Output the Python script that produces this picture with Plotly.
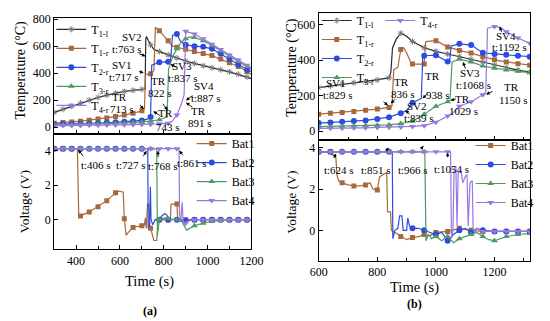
import plotly.graph_objects as go

# ---------------- Panel (a) temperature ----------------
a_T1l_x = [300,340,380,420,460,500,540,580,620,660,700,715,718,722,730,740,755,780,820,860,900,940,980,1020,1060,1100,1140,1180,1200]
a_T1l_y = [110,133,155,178,200,220,238,252,265,273,280,282,660,668,640,610,575,560,535,512,490,472,455,440,425,410,392,372,360]
a_T1r_x = [300,340,380,420,460,500,540,580,620,660,700,712,717,740,755,762,780,800,820,840,860,900,940,980,1020,1060,1100,1140,1180,1200]
a_T1r_y = [30,34,39,45,52,60,69,79,90,103,122,135,390,395,420,740,715,675,640,600,592,578,560,545,530,505,478,450,412,390]
a_T2r_x = [300,340,380,420,460,500,540,580,620,660,700,725,740,745,780,820,830,840,860,875,900,940,980,1020,1060,1100,1140,1180,1200]
a_T2r_y = [22,23,24,26,28,30,33,36,40,45,50,60,75,460,480,485,470,680,690,640,610,600,595,580,545,505,465,425,410]
a_T3r_x = [300,340,380,420,460,500,540,580,620,660,700,740,780,815,822,840,860,880,900,920,940,980,1020,1060,1100,1140,1180,1200]
a_T3r_y = [18,19,20,21,22,24,26,28,31,34,38,45,55,75,430,520,580,630,655,668,665,640,605,565,525,488,448,432]
a_T4r_x = [300,340,380,420,460,500,540,580,620,660,700,740,780,820,840,860,880,893,898,900,940,980,1020,1060,1100,1140,1180,1200]
a_T4r_y = [12,12,13,13,14,15,16,17,18,19,20,22,25,30,45,90,170,240,700,710,690,655,615,575,535,497,458,442]

# ---------------- Panel (a) voltage ----------------
a_B1_x = [300,340,380,406,412,420,460,500,540,580,590,615,620,628,640,660,700,712,716,720,726,732,736,740,755,768,775,780,820,830,833,860,864,900,940,980,1020,1060,1100,1140,1180,1200]
a_B1_y = [4.1,4.1,4.1,4.1,0.2,0.22,0.45,0.75,1.1,1.55,1.65,1.6,0.05,-0.9,-0.7,-0.45,-0.35,-0.3,0.1,-0.5,0.9,0.9,-0.3,-0.5,-1.2,-1.2,0.0,0.0,0.0,0.0,0.9,0.9,0.0,0.0,0.0,0.0,0.0,0.0,0.0,0.0,0.0,0.0]
a_B2_x = [300,340,380,420,460,500,540,580,620,660,700,727,729,735,739,742,750,760,780,790,805,815,820,860,880,900,940,980,1020,1060,1100,1140,1180,1200]
a_B2_y = [4.1]*11 + [4.1,-0.5,-0.3,1.9,0.0,-0.3,0.0,0.0,0.2,0.35,0.25,0.0,0.0,-0.1,-0.05,0,0,0,0,0,0,0,0]
a_B3_x = [300,340,380,420,460,500,540,580,620,660,700,740,768,771,776,780,800,820,860,880,895,905,940,980,1020,1060,1100,1140,1180,1200]
a_B3_y = [4.1]*12 + [4.1,-0.9,-0.2,0.0,0.1,0.05,0.0,0.0,-0.4,-0.6,-0.35,-0.2,-0.1,-0.05,0.0,0.0,0.0,0.0]
a_B4_x = [300,340,380,420,460,500,540,580,620,660,700,740,780,820,860,870,872,878,884,888,895,900,905,920,940,980,1020,1060,1100,1140,1180,1200]
a_B4_y = [4.1]*15 + [4.1,0.3,0.0,1.0,0.0,-0.3,-0.2,-0.1,-0.05,0,0,0,0,0,0,0,0]

# ---------------- Panel (b) temperature ----------------
b_T1l_x = [600,640,680,720,760,800,840,846,852,865,880,900,920,960,1000,1040,1080,1120,1160,1200,1240,1280,1320]
b_T1l_y = [245,255,264,272,280,288,300,330,470,520,552,535,505,470,450,435,420,405,390,372,357,344,332]
b_T1r_x = [600,640,680,720,760,800,840,850,856,870,880,890,900,915,920,960,965,1000,1040,1080,1120,1160,1200,1240,1280,1320]
b_T1r_y = [95,100,105,110,117,124,133,140,345,360,460,470,440,385,378,378,505,510,475,455,440,420,402,390,380,372]
b_T2r_x = [600,640,680,720,760,800,840,860,880,900,920,940,950,955,960,1000,1040,1046,1052,1080,1120,1160,1200,1240,1280,1320]
b_T2r_y = [45,48,52,56,60,68,78,90,100,115,160,175,185,410,425,428,392,385,480,492,485,442,435,430,425,420]
b_T3r_x = [600,640,680,720,760,800,840,880,920,960,1000,1040,1048,1055,1080,1120,1160,1200,1240,1280,1320]
b_T3r_y = [25,26,27,28,30,32,35,42,55,95,140,165,175,390,405,390,367,355,345,337,330]
b_T4r_x = [600,640,680,720,760,800,840,880,920,960,1000,1040,1060,1080,1120,1160,1170,1176,1200,1220,1240,1280,1320]
b_T4r_y = [15,15,16,17,18,20,21,23,26,30,50,85,105,140,165,205,220,580,590,585,560,525,495]

# ---------------- Panel (b) voltage ----------------
b_B1_x = [600,640,645,658,662,668,680,700,720,740,760,775,785,800,808,820,832,835,845,848,860,880,900,920,940,960,980,1000,1040,1080,1120,1160,1200,1240,1280,1320]
b_B1_y = [3.8,3.8,3.65,3.65,2.7,2.4,2.3,2.2,2.15,2.15,2.2,2.3,2.0,1.95,2.6,2.7,2.8,0.9,0.9,0.0,-0.1,-0.3,-0.45,-0.35,-0.3,-0.2,-0.25,-0.1,-0.05,0.1,0.0,-0.05,-0.05,-0.05,-0.05,-0.05]
b_B2_x = [600,640,680,720,760,800,840,851,853,860,870,876,884,888,900,904,910,920,940,960,980,1000,1020,1040,1060,1080,1100,1120,1140,1160,1200,1240,1280,1320]
b_B2_y = [3.8]*7 + [3.8,-0.4,0.0,0.1,0.7,0.7,0.0,0.0,0.6,0.2,0.1,0.1,0.0,-0.1,-0.2,-0.1,-0.5,-0.2,0.0,0.1,-0.1,0.1,0.0,-0.05,-0.05,-0.05,-0.05]
b_B3_x = [600,640,680,720,760,800,840,880,920,960,962,966,975,985,1000,1020,1040,1060,1080,1100,1120,1140,1160,1180,1200,1240,1280,1320]
b_B3_y = [3.8]*10 + [3.8,-0.5,-0.2,-0.4,-0.3,-0.5,-0.3,-0.6,-0.4,-0.3,-0.2,-0.1,-0.3,-0.45,-0.5,-0.3,-0.2,-0.15]
b_B4_x = [600,640,680,720,760,800,840,880,920,960,1000,1040,1050,1053,1058,1062,1068,1072,1076,1085,1092,1100,1106,1110,1116,1124,1127,1132,1140,1160,1200,1240,1280,1320]
b_B4_y = [3.8]*12 + [3.8,-0.4,0.0,3.0,3.1,0.2,2.8,2.9,2.3,2.6,2.7,0.2,2.3,2.4,0.0,-0.1,0.1,-0.05,-0.05,-0.05,-0.05,-0.05]

T_names = ["T<sub>1-l</sub>", "T<sub>1-r</sub>", "T<sub>2-r</sub>", "T<sub>3-r</sub>", "T<sub>4-r</sub>"]
B_names = ["Bat1", "Bat2", "Bat3", "Bat4"]

BLACK = "#2a2a2a"
BROWN = "#a8683a"
BLUE = "#2d4be0"
GREEN = "#4e9a62"
PURPLE = "#9878e0"

W, H = 550, 321
FONT = "Liberation Serif, Times New Roman, serif"


def P(px, py):
    return px / W, 1 - py / H


def mcolors(xs, color, step=40):
    x0 = xs[0]
    return [color if (x - x0) % step == 0 else "rgba(0,0,0,0)" for x in xs]


fig = go.Figure()


def add(xs, ys, name, color, symbol, size, xa, ya, legend, mcolor=None, open_sym=False):
    mc = mcolors(xs, mcolor or color)
    marker = dict(symbol=symbol, size=size, color=mc)
    if open_sym:
        marker["line"] = dict(width=1)
    fig.add_trace(go.Scatter(
        x=xs, y=ys, name=name, mode="lines+markers",
        line=dict(color=color, width=1.2),
        marker=marker, xaxis=xa, yaxis=ya, legend=legend))


# panel (a) top
add(a_T1l_x, a_T1l_y, T_names[0], BLACK, "asterisk-open", 5, "x", "y", "legend", mcolor="#777777", open_sym=True)
add(a_T1r_x, a_T1r_y, T_names[1], BROWN, "square", 5, "x", "y", "legend")
add(a_T2r_x, a_T2r_y, T_names[2], BLUE, "circle", 6, "x", "y", "legend")
add(a_T3r_x, a_T3r_y, T_names[3], GREEN, "triangle-up", 6, "x", "y", "legend")
add(a_T4r_x, a_T4r_y, T_names[4], PURPLE, "triangle-down", 6, "x", "y", "legend")
# panel (a) bottom
add(a_B1_x, a_B1_y, B_names[0], BROWN, "square", 5, "x2", "y2", "legend2")
add(a_B2_x, a_B2_y, B_names[1], BLUE, "circle", 6, "x2", "y2", "legend2")
add(a_B3_x, a_B3_y, B_names[2], GREEN, "triangle-up", 6, "x2", "y2", "legend2")
add(a_B4_x, a_B4_y, B_names[3], PURPLE, "triangle-down", 6, "x2", "y2", "legend2")
# panel (b) top
add(b_T1l_x, b_T1l_y, T_names[0], BLACK, "asterisk-open", 5, "x3", "y3", "legend3", mcolor="#777777", open_sym=True)
add(b_T1r_x, b_T1r_y, T_names[1], BROWN, "square", 5, "x3", "y3", "legend3")
add(b_T2r_x, b_T2r_y, T_names[2], BLUE, "circle", 6, "x3", "y3", "legend3")
add(b_T3r_x, b_T3r_y, T_names[3], GREEN, "triangle-up", 6, "x3", "y3", "legend3")
add(b_T4r_x, b_T4r_y, T_names[4], PURPLE, "triangle-down", 6, "x3", "y3", "legend5")
# panel (b) bottom
add(b_B1_x, b_B1_y, B_names[0], BROWN, "square", 5, "x4", "y4", "legend4")
add(b_B2_x, b_B2_y, B_names[1], BLUE, "circle", 6, "x4", "y4", "legend4")
add(b_B3_x, b_B3_y, B_names[2], GREEN, "triangle-up", 6, "x4", "y4", "legend4")
add(b_B4_x, b_B4_y, B_names[3], PURPLE, "triangle-down", 6, "x4", "y4", "legend4")

axis_common = dict(showline=True, linecolor="black", linewidth=1, mirror=True,
                   ticks="inside", ticklen=4, tickcolor="black", tickwidth=1,
                   showgrid=False, zeroline=False,
                   tickfont=dict(family=FONT, size=12, color="black"))
minor = dict(dtick=100, ticks="inside", ticklen=3, tickcolor="black")

xa_dom = [47 / W, 252 / W]
xb_dom = [322 / W, 542 / W]

fig.update_layout(
    width=W, height=H, margin=dict(l=0, r=0, t=0, b=0),
    paper_bgcolor="white", plot_bgcolor="white",
    font=dict(family=FONT, size=12, color="black"),
    xaxis=dict(axis_common, domain=xa_dom, anchor="y", range=[300, 1200], dtick=200, tick0=0,
               showticklabels=False, minor=minor),
    yaxis=dict(axis_common, domain=[1 - 131 / H, 1 - 13 / H], anchor="x", range=[-50, 810], dtick=200),
    xaxis2=dict(axis_common, domain=xa_dom, anchor="y2", range=[300, 1200], dtick=200, tick0=0, minor=minor),
    yaxis2=dict(axis_common, domain=[1 - 248 / H, 1 - 131 / H], anchor="x2", range=[-1.7, 4.95],
                tickvals=[0, 2, 4]),
    xaxis3=dict(axis_common, domain=xb_dom, anchor="y3", range=[600, 1322], dtick=200, tick0=0,
                showticklabels=False, minor=minor),
    yaxis3=dict(axis_common, domain=[1 - 137 / H, 1 - 8 / H], anchor="x3", range=[-50, 667], dtick=200),
    xaxis4=dict(axis_common, domain=xb_dom, anchor="y4", range=[600, 1322], dtick=200, tick0=0, minor=minor),
    yaxis4=dict(axis_common, domain=[1 - 260 / H, 1 - 137 / H], anchor="x4", range=[-1.48, 4.38],
                tickvals=[0, 2, 4]),
)

leg_common = dict(xanchor="left", yanchor="top", bgcolor="rgba(0,0,0,0)", borderwidth=0,
                  font=dict(family=FONT, size=12, color="black"), itemwidth=30, tracegroupgap=0)
for name, (px, py) in [("legend", (44, 10)), ("legend2", (190, 126)), ("legend3", (320, 1)),
                       ("legend5", (386, 1)), ("legend4", (480, 128))]:
    lx, ly = P(px, py)
    fig.update_layout({name: dict(leg_common, x=lx, y=ly)})

# axis titles (px centres)
titles = [
    ("Temperature (°C)", 12, 66, -90, 14), ("Voltage (V)", 17, 200, -90, 13.5), ("Time (s)", 146, 281, 0, 14.5),
    ("Temperature (°C)", 294, 63, -90, 14), ("Voltage (V)", 294, 200, -90, 13.5), ("Time (s)", 422, 287, 0, 14.5),
]
for txt, px, py, ang, fs in titles:
    x, y = P(px, py)
    fig.add_annotation(x=x, y=y, xref="paper", yref="paper", text=txt, showarrow=False, textangle=ang,
                       font=dict(family=FONT, size=fs, color="black"), xanchor="center", yanchor="middle")

# text labels (px positions of text centres)
labels = [
    ("SV2", 128, 32), ("t:763 s", 123, 45),
    ("SV1", 117, 61), ("t:717 s", 120, 73),
    ("TR", 115, 93), ("713 s", 117, 106),
    ("TR", 155, 77), ("822 s", 157, 89),
    ("TR", 163, 110), ("743 s", 165, 124),
    ("SV3", 180, 62), ("t:837 s", 181, 74),
    ("SV4", 203, 82), ("t:887 s", 205, 94),
    ("TR", 197, 108), ("891 s", 199, 120),
    ("t:406 s", 90, 163), ("t:727 s", 127, 163), ("t:768 s", 160, 164), ("t:861 s", 190, 161),
    ("SV1", 340, 79), ("t:829 s", 342, 91),
    ("TR", 408, 78), ("836 s", 410, 90),
    ("TR", 440, 72), ("938 s", 446, 91),
    ("SV2", 424, 103), ("t:839 s", 426, 115),
    ("SV3", 479, 69), ("t:1068 s", 483, 81),
    ("TR", 472, 95), ("1029 s", 473, 108),
    ("TR", 522, 83), ("1150 s", 525, 97),
    ("SV4", 517, 31), ("t:1192 s", 520, 43),
    ("t:624 s", 343, 168), ("t:851 s", 382, 168), ("t:966 s", 420, 168), ("t:1054 s", 460, 167),
]
for txt, px, py in labels:
    x, y = P(px, py)
    fig.add_annotation(x=x, y=y, xref="paper", yref="paper", text=txt, showarrow=False,
                       font=dict(family=FONT, size=11, color="black"), xanchor="center", yanchor="middle")

# arrows: head px, head py, tail offset dx, dy
arrows = [
    (142, 52, -8, -3), (140, 69, -6, -2), (140, 106, -5, -6), (165, 107, -6, -8),
    (150, 108, 8, 5), (168, 60, 6, 4), (184, 97, 8, -6), (184, 99, 8, 6),
    (72, 147, 6, 8), (143, 148, -4, 7), (155, 148, 0, 8), (177, 148, 5, 6),
    (394, 102, -6, -5), (397, 100, 6, -6), (430, 95, 6, -6), (412, 107, 6, 5),
    (472, 58, 3, 8), (459, 97, 7, -2), (496, 91, 8, -4), (510, 22, 3, 7),
    (340, 151, -3, 6), (395, 145, -5, 5), (431, 143, -4, 5), (456, 150, 0, 6),
]
for hx, hy, dx, dy in arrows:
    x, y = P(hx, hy)
    fig.add_annotation(x=x, y=y, xref="paper", yref="paper", text="", showarrow=True,
                       ax=dx, ay=dy, arrowhead=2, arrowsize=0.8, arrowwidth=0.9,
                       arrowcolor="black", standoff=0, startstandoff=0)

for txt, px, py in [("<b>(a)</b>", 147, 311), ("<b>(b)</b>", 422, 304)]:
    x, y = P(px, py)
    fig.add_annotation(x=x, y=y, xref="paper", yref="paper", text=txt, showarrow=False,
                       xanchor="center", yanchor="middle",
                       font=dict(family=FONT, size=12, color="black"))

fig.write_html("out.html", config={"displayModeBar": False},
               post_script="document.body.style.margin='0';")
